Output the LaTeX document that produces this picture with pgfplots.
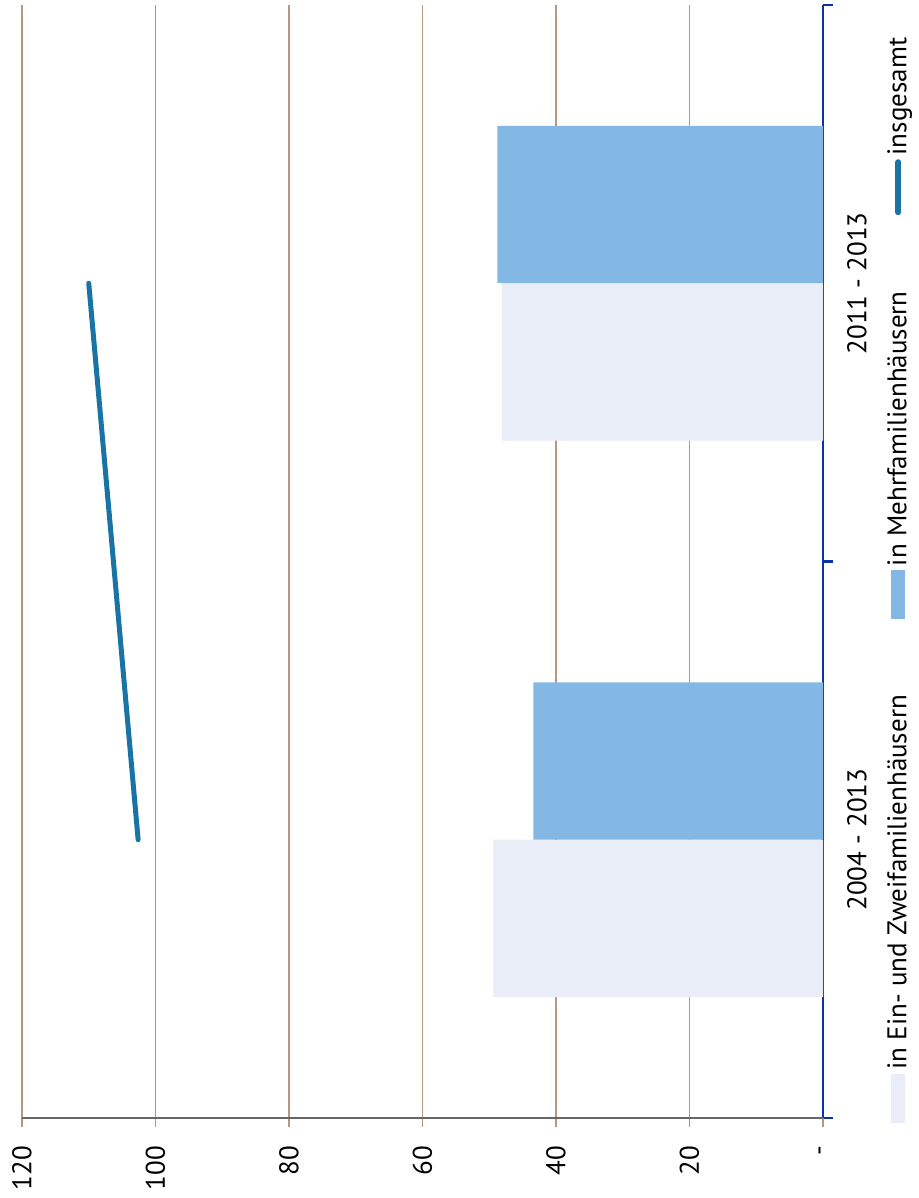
\documentclass[border=0pt]{standalone}
\usepackage{graphicx}
\usepackage{fontspec}
\setmainfont{PT Sans}
\usepackage{pgfplots}
\pgfplotsset{compat=1.18}

\definecolor{lightbar}{RGB}{233,237,247}
\definecolor{bluebar}{RGB}{132,184,228}
\definecolor{totline}{RGB}{25,115,165}
\definecolor{catblue}{RGB}{10,50,170}
\definecolor{gridbrown}{RGB}{185,150,128}

\begin{document}
% the scanned chart lies on its side, so the whole picture is turned by 90 degrees
\rotatebox{90}{%
\begin{tikzpicture}
\begin{axis}[
    name=ax,
    scale only axis,
    width=556.5pt, height=400.5pt,
    xmin=-0.5, xmax=1.5,
    ymin=0, ymax=120,
    font=\fontsize{13.5}{16}\selectfont,
    axis x line*=bottom, axis y line*=left,
    x axis line style={draw=catblue, line width=1.1pt},
    y axis line style={draw=black!60, line width=0.8pt},
    ytick={0,20,40,60,80,100,120},
    yticklabels={-,20,40,60,80,100,120},
    ymajorgrids,
    grid style={draw=gridbrown, line width=0.6pt},
    ytick style={draw=gridbrown, line width=0.6pt},
    tick align=outside,
    major tick length=4.5pt,
    yticklabel style={xshift=-6pt},
    xtick={0,1},
    xticklabels={2004 - 2013, 2011 - 2013},
    major x tick style={draw=none},
    minor xtick={-0.5,0.5,1.5},
    minor x tick style={draw=catblue, line width=1.1pt},
    minor tick length=5pt,
    xticklabel style={yshift=-4pt},
    legend columns=3,
    legend style={at={(0.485,-0.094)}, anchor=center, draw=none, fill=none,
        /tikz/every even column/.append style={column sep=36pt}},
]
\addplot[ybar, bar width=0.283, bar shift=-0.1415, fill=lightbar, draw=none,
    legend image code/.code={\fill[lightbar] (0pt,-3.5pt) rectangle (24.5pt,3.5pt);}]
    coordinates {(0,49.4) (1,48.1)};
\addlegendentry{in Ein- und Zweifamilienhäusern}
\addplot[ybar, bar width=0.283, bar shift=0.1415, fill=bluebar, draw=none,
    legend image code/.code={\fill[bluebar] (0pt,-3.5pt) rectangle (24.5pt,3.5pt);}]
    coordinates {(0,43.4) (1,48.8)};
\addlegendentry{in Mehrfamilienhäusern}
\addplot[totline, line width=2.5pt, line cap=round, mark=none,
    legend image code/.code={\draw[totline, line width=3pt, line cap=round] (0pt,0pt) -- (25pt,0pt);}]
    coordinates {(0,102.6) (1,110.0)};
\addlegendentry{insgesamt}
\end{axis}
\pgfresetboundingbox
\path[use as bounding box] ([xshift=-40pt,yshift=-48pt]ax.south west)
    rectangle ([xshift=2.5pt,yshift=11pt]ax.north east);
\end{tikzpicture}}
\end{document}
